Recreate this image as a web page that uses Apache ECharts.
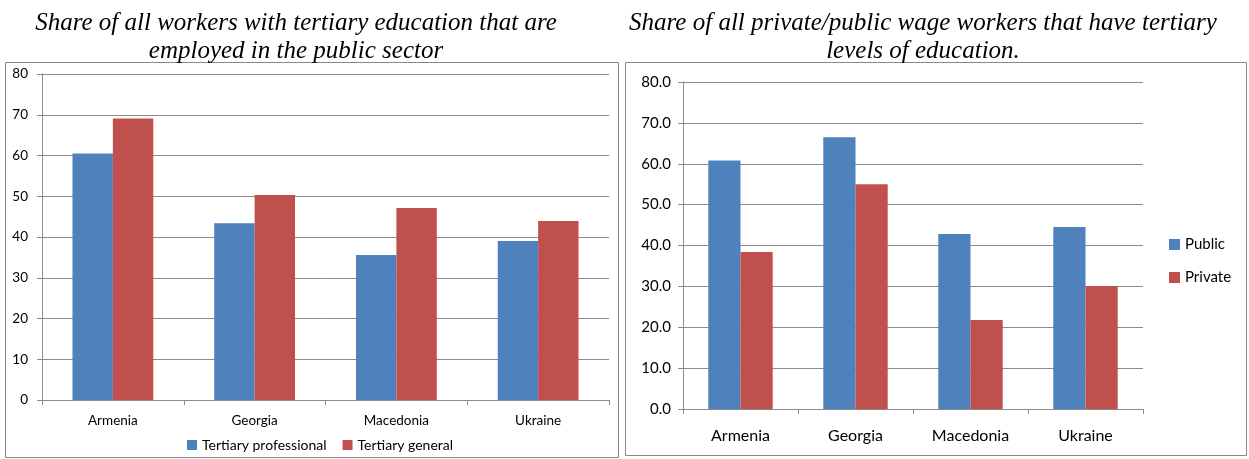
<!DOCTYPE html>
<html>
<head>
<meta charset="utf-8">
<script src="https://cdn.jsdelivr.net/npm/echarts@6/dist/echarts.min.js"></script>
<style>
  html, body { margin: 0; padding: 0; background: #fff; }
  #chart { width: 1249px; height: 459px; }
</style>
</head>
<body>
<div id="chart"></div>
<script>
// data
const countries = ["Armenia", "Georgia", "Macedonia", "Ukraine"];
const tertiaryProfessional = [60.5, 43.4, 35.6, 39.0];
const tertiaryGeneral = [69.1, 50.3, 47.1, 43.9];
const publicShare = [60.8, 66.5, 42.8, 44.5];
const privateShare = [38.4, 55.0, 21.8, 30.1];

const leftTitle = "Share of all workers with tertiary education that are\nemployed in the public sector";
const rightTitle = "Share of all private/public wage workers that have tertiary\nlevels of education.";

const BLUE = "#4F81BD";
const RED = "#C0504D";
const GRID_GREY = "#8c8c8c";
const labelFont = "Lato, 'Open Sans', sans-serif";

let chart = echarts.init(document.getElementById("chart"));

function yAxis(gridIndex, fontSize, decimals, margin) {
  return {
    type: "value",
    gridIndex: gridIndex,
    min: 0,
    max: 80,
    interval: 10,
    axisLine: { show: true, lineStyle: { color: GRID_GREY } },
    axisTick: { show: true, length: 5, lineStyle: { color: GRID_GREY } },
    axisLabel: {
      color: "#000",
      fontSize: fontSize,
      fontFamily: labelFont,
      margin: margin,
      formatter: (v) => v.toFixed(decimals),
    },
    splitLine: { lineStyle: { color: GRID_GREY, width: 1 } },
  };
}

function xAxis(gridIndex, fontSize, margin) {
  return {
    type: "category",
    gridIndex: gridIndex,
    data: countries,
    axisLine: { lineStyle: { color: GRID_GREY } },
    axisTick: { show: true, length: 5, alignWithLabel: false, lineStyle: { color: GRID_GREY } },
    axisLabel: { color: "#000", fontSize: fontSize, fontFamily: labelFont, margin: margin, interval: 0 },
  };
}

const titleStyle = {
  fontFamily: "'Liberation Serif', serif",
  fontStyle: "italic",
  fontWeight: "normal",
  fontSize: 25,
  lineHeight: 28,
  color: "#000",
};

let option = {
  animation: false,
  backgroundColor: "#fff",
  title: [
    { text: leftTitle, left: 291, top: 4, textAlign: "center", textStyle: titleStyle },
    { text: rightTitle, left: 918, top: 4, textAlign: "center", textStyle: titleStyle },
  ],
  graphic: [
    {
      type: "rect",
      shape: { x: 5.5, y: 62.5, width: 613, height: 395 },
      style: { fill: "none", stroke: "#888", lineWidth: 1 },
      z: -1,
    },
    {
      type: "rect",
      shape: { x: 625.5, y: 62.5, width: 621, height: 393 },
      style: { fill: "none", stroke: "#888", lineWidth: 1 },
      z: -1,
    },
  ],
  legend: [
    {
      data: ["Tertiary professional", "Tertiary general"],
      left: 182,
      top: 433,
      itemWidth: 10,
      itemHeight: 10,
      itemGap: 16,
      icon: "rect",
      textStyle: { color: "#000", fontSize: 14, fontFamily: labelFont },
    },
    {
      data: ["Public", "Private"],
      orient: "vertical",
      left: 1164,
      top: 232,
      itemWidth: 11,
      itemHeight: 11,
      itemGap: 18,
      icon: "rect",
      textStyle: { color: "#000", fontSize: 15, fontFamily: labelFont },
    },
  ],
  grid: [
    { left: 42, right: 640, top: 74, bottom: 59 },
    { left: 683, right: 106, top: 82, bottom: 50 },
  ],
  xAxis: [xAxis(0, 13.5, 14), xAxis(1, 16, 19)],
  yAxis: [yAxis(0, 13.5, 0, 14), yAxis(1, 15, 1, 12)],
  series: [
    {
      name: "Tertiary professional",
      type: "bar",
      xAxisIndex: 0,
      yAxisIndex: 0,
      data: tertiaryProfessional,
      barWidth: "28.5%",
      barGap: "0%",
      itemStyle: { color: BLUE },
    },
    {
      name: "Tertiary general",
      type: "bar",
      xAxisIndex: 0,
      yAxisIndex: 0,
      data: tertiaryGeneral,
      barWidth: "28.5%",
      barGap: "0%",
      itemStyle: { color: RED },
    },
    {
      name: "Public",
      type: "bar",
      xAxisIndex: 1,
      yAxisIndex: 1,
      data: publicShare,
      barWidth: "28%",
      barGap: "0%",
      itemStyle: { color: BLUE },
    },
    {
      name: "Private",
      type: "bar",
      xAxisIndex: 1,
      yAxisIndex: 1,
      data: privateShare,
      barWidth: "28%",
      barGap: "0%",
      itemStyle: { color: RED },
    },
  ],
};

option && chart.setOption(option);
</script>
</body>
</html>
